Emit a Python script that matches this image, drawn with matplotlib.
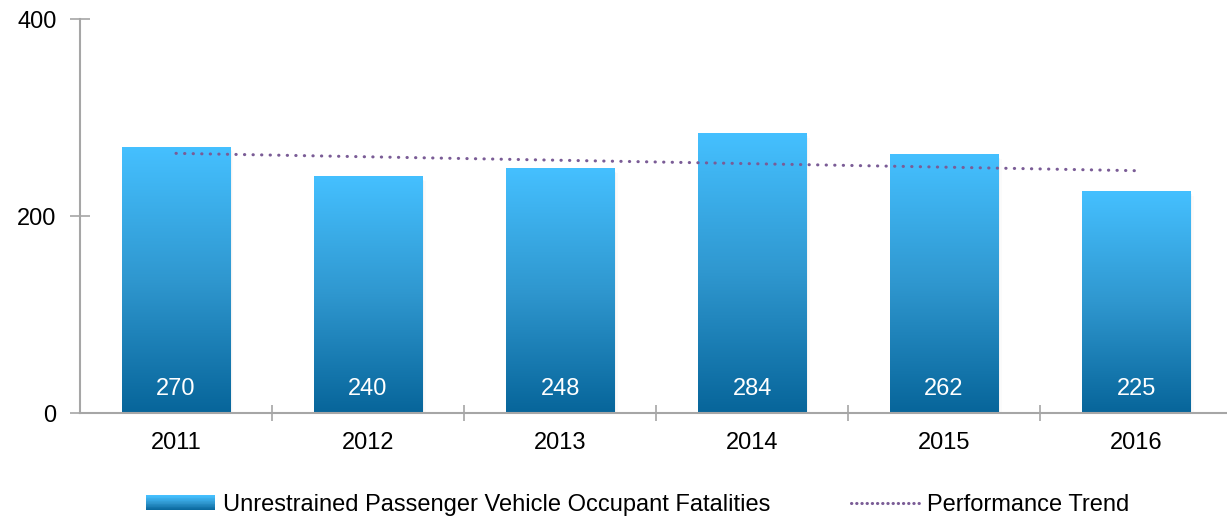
import numpy as np
import matplotlib
matplotlib.use("Agg")
import matplotlib.pyplot as plt
from matplotlib.colors import LinearSegmentedColormap
from matplotlib.patches import Rectangle
from matplotlib.lines import Line2D
from matplotlib.legend_handler import HandlerBase

plt.rcParams['font.family'] = ['Liberation Sans', 'DejaVu Sans']

# data
years = ['2011', '2012', '2013', '2014', '2015', '2016']
fatalities = [270, 240, 248, 284, 262, 225]
trend = [263.6, 260.1, 256.6, 253.1, 249.6, 246.0]

top_col = '#45C0FF'
bot_col = '#07659A'
grad_cmap = LinearSegmentedColormap.from_list('bar', [bot_col, '#2F97CF', top_col])
trend_col = '#7A5C96'
axis_col = '#A6A6A6'
fs = 17


class GradientHandler(HandlerBase):
    def create_artists(self, legend, orig_handle, xdescent, ydescent,
                       width, height, fontsize, trans):
        out = []
        n = 20
        for k in range(n):
            r = Rectangle((-xdescent, -ydescent + height * k / n), width, height / n + 0.3,
                          facecolor=grad_cmap(k / (n - 1)), edgecolor='none', transform=trans)
            out.append(r)
        return out


class GradProxy:
    pass


fig = plt.figure(figsize=(12.27, 5.22), dpi=100)
# the plot area runs a little past the right edge of the picture
ax = fig.add_axes([0.0652, 0.2088, 0.939, 0.7548])

x = np.arange(len(years))
w = 0.5625
grad = np.linspace(0, 1, 256).reshape(-1, 1)
for i, v in enumerate(fatalities):
    # soft shadow on the right side
    for k, a in enumerate([0.05, 0.03, 0.015]):
        ax.add_patch(Rectangle((x[i] - w / 2 + 0.006 * (k + 1), 0), w, v - 1.5 * (k + 1),
                               facecolor='#000000', alpha=a, edgecolor='none', zorder=1))
    ax.imshow(grad, extent=[x[i] - w / 2, x[i] + w / 2, 0, v], origin='lower',
              aspect='auto', cmap=grad_cmap, zorder=2)
    ax.text(x[i], 24, str(v), color='white', ha='center', va='center', fontsize=fs, zorder=4)

ax.plot(x, trend, color=trend_col, linewidth=2.2, linestyle=(0, (0.1, 2.7)),
        dash_capstyle='round', zorder=3)

ax.set_xlim(-0.5, len(years) - 0.5)
ax.set_ylim(0, 400)
ax.set_yticks([0, 200, 400])
ax.set_xticks(x)
ax.set_xticklabels(years)
ax.set_xticks(np.arange(0.5, len(years) - 0.5, 1), minor=True)
ax.tick_params(axis='x', which='major', length=0, pad=14, labelsize=fs)
ax.tick_params(axis='x', which='minor', length=12, direction='inout', color=axis_col, width=1.2)
ax.tick_params(axis='y', length=14, direction='inout', color=axis_col, width=1.2,
               labelsize=fs, pad=10)
for s in ['top', 'right']:
    ax.spines[s].set_visible(False)
for s in ['left', 'bottom']:
    ax.spines[s].set_color(axis_col)
    ax.spines[s].set_linewidth(1.5)
ax.spines['left'].set_zorder(5)

handles = [GradProxy(),
           Line2D([0], [0], color=trend_col, linewidth=2.2, linestyle=(0, (0.1, 1.6)),
                  dash_capstyle='round')]
labels = ['Unrestrained Passenger Vehicle Occupant Fatalities', 'Performance Trend']
fig.legend(handles, labels, loc='center', bbox_to_anchor=(0.52, 0.032), ncol=2,
           frameon=False, fontsize=fs, handlelength=2.9, handleheight=0.6,
           handletextpad=0.35, columnspacing=3.4,
           handler_map={GradProxy: GradientHandler()})

fig.savefig('out.png', dpi=100)
